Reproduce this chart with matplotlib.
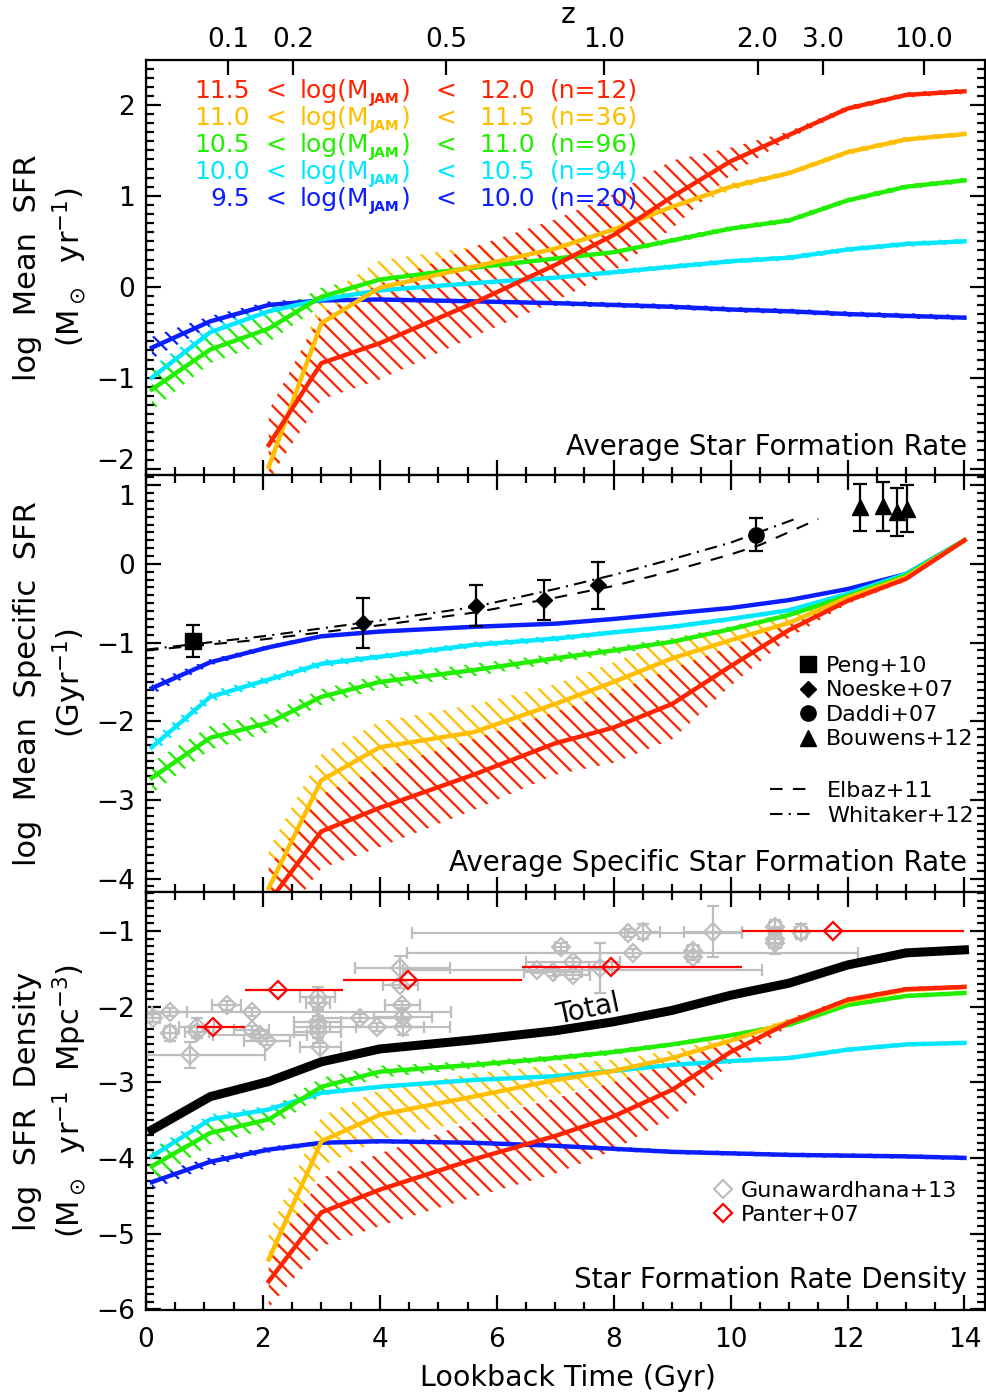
import numpy as np
import matplotlib
matplotlib.use('Agg')
import matplotlib.pyplot as plt
from matplotlib.ticker import MultipleLocator
from matplotlib.lines import Line2D
from matplotlib.transforms import offset_copy

plt.rcParams['font.family'] = ['DejaVu Sans']
plt.rcParams['mathtext.default'] = 'regular'
plt.rcParams['hatch.linewidth'] = 1.6

### lookback time grid (Gyr)
t_all = [0.1, 1.1, 2.1, 3.0, 4.0, 5.6, 7.0, 8.0, 9.0, 10.0, 11.0, 12.0, 13.0, 14.0]
t_hi = [2.1, 3.0, 4.0, 5.6, 7.0, 8.0, 9.0, 10.0, 11.0, 12.0, 13.0, 14.0]

### mass bins
mass_lo = ['11.5', '11.0', '10.5', '10.0', '9.5']
mass_hi = ['12.0', '11.5', '11.0', '10.5', '10.0']
n_gal = [12, 36, 96, 94, 20]
colors = ['#ff2400', '#ffbf00', '#22ee00', '#00e8ff', '#0a1eff']

### panel 1: log mean SFR
sfr_red = [-1.74, -0.84, -0.62, -0.18, 0.24, 0.57, 0.99, 1.38, 1.67, 1.96, 2.11, 2.15]
sfr_orange = [-1.98, -0.40, -0.01, 0.22, 0.42, 0.63, 0.88, 1.10, 1.25, 1.48, 1.62, 1.68]
sfr_green = [-1.13, -0.69, -0.46, -0.11, 0.08, 0.21, 0.31, 0.38, 0.51, 0.64, 0.73, 0.95, 1.10, 1.17]
sfr_cyan = [-1.00, -0.50, -0.27, -0.14, -0.04, 0.04, 0.10, 0.16, 0.22, 0.28, 0.32, 0.41, 0.47, 0.50]
sfr_blue = [-0.67, -0.38, -0.20, -0.15, -0.14, -0.16, -0.18, -0.20, -0.22, -0.25, -0.27, -0.30, -0.32, -0.34]
sfr_red_up = [0.38, 0.55, 0.65, 0.62, 0.50, 0.45, 0.40, 0.15, 0.04, 0.03, 0.03, 0.03]
sfr_red_dn = [0.38, 0.40, 0.40, 0.37, 0.40, 0.40, 0.35, 0.15, 0.04, 0.03, 0.03, 0.03]
sfr_orange_up = [0.30, 0.28, 0.30, 0.22, 0.18, 0.15, 0.08, 0.04, 0.03, 0.03, 0.03, 0.03]
sfr_orange_dn = [0.30, 0.15, 0.15, 0.15, 0.15, 0.12, 0.08, 0.04, 0.03, 0.03, 0.03, 0.03]
sfr_green_err = [0.23, 0.15, 0.15, 0.10, 0.06, 0.05, 0.04, 0.04, 0.03, 0.03, 0.03, 0.03, 0.03, 0.03]
sfr_cyan_err = [0.12, 0.07, 0.05, 0.04, 0.03, 0.03, 0.03, 0.03, 0.03, 0.03, 0.03, 0.03, 0.03, 0.03]
sfr_blue_err = [0.12, 0.06, 0.04, 0.03, 0.03, 0.03, 0.03, 0.03, 0.03, 0.03, 0.03, 0.03, 0.03, 0.03]

### panel 2: log mean specific SFR
ssfr_red = [-4.30, -3.40, -3.10, -2.68, -2.28, -2.08, -1.78, -1.30, -0.84, -0.47, -0.19, 0.30]
ssfr_orange = [-4.12, -2.75, -2.33, -2.14, -1.78, -1.50, -1.20, -0.97, -0.75, -0.43, -0.17, 0.30]
ssfr_green = [-2.72, -2.21, -2.02, -1.69, -1.50, -1.35, -1.20, -1.10, -0.99, -0.83, -0.65, -0.41, -0.15, 0.30]
ssfr_cyan = [-2.33, -1.69, -1.47, -1.27, -1.18, -1.03, -0.95, -0.87, -0.80, -0.70, -0.59, -0.38, -0.13, 0.30]
ssfr_blue = [-1.58, -1.25, -1.06, -0.92, -0.86, -0.80, -0.76, -0.70, -0.63, -0.56, -0.46, -0.32, -0.13, 0.30]
ssfr_red_err = [0.45, 0.47, 0.50, 0.45, 0.40, 0.45, 0.45, 0.25, 0.10, 0.04, 0.03, 0.02]
ssfr_orange_err = [0.50, 0.33, 0.33, 0.35, 0.25, 0.25, 0.25, 0.15, 0.10, 0.05, 0.03, 0.02]
ssfr_green_err = [0.20, 0.15, 0.12, 0.10, 0.09, 0.08, 0.06, 0.05, 0.05, 0.04, 0.03, 0.03, 0.02, 0.02]
ssfr_cyan_err = [0.10, 0.07, 0.05, 0.05, 0.04, 0.04, 0.04, 0.03, 0.03, 0.03, 0.03, 0.02, 0.02, 0.02]
ssfr_blue_err = [0.08, 0.04, 0.03, 0.02, 0.02, 0.02, 0.02, 0.02, 0.02, 0.02, 0.02, 0.02, 0.02, 0.02]

### literature sSFR
peng_t, peng_v, peng_e = [0.80], [-0.98], [0.20]
noeske_t = [3.71, 5.65, 6.81, 7.73]
noeske_v = [-0.75, -0.53, -0.46, -0.27]
noeske_e = [0.32, 0.26, 0.25, 0.30]
daddi_t, daddi_v, daddi_e = [10.44], [0.37], [0.21]
bouwens_t = [12.22, 12.60, 12.85, 13.02]
bouwens_v = [0.72, 0.73, 0.66, 0.70]
bouwens_e = [0.30, 0.31, 0.30, 0.30]
elbaz_t = [0.0, 2.0, 4.0, 5.6, 7.0, 8.0, 9.0, 10.0, 10.5, 11.5]
elbaz_v = [-1.10, -0.96, -0.78, -0.62, -0.43, -0.28, -0.09, 0.12, 0.24, 0.57]
whit_t = [0.0, 2.0, 4.0, 5.6, 7.0, 8.0, 9.0, 10.0, 11.1]
whit_v = [-1.09, -0.92, -0.72, -0.55, -0.32, -0.14, 0.06, 0.27, 0.57]

### panel 3: log SFR density
sfrd_total = [-3.63, -3.19, -2.99, -2.73, -2.56, -2.44, -2.32, -2.20, -2.05, -1.85, -1.69, -1.45, -1.29, -1.25]
sfrd_red = [-5.63, -4.72, -4.42, -4.02, -3.71, -3.45, -3.10, -2.60, -2.21, -1.91, -1.77, -1.74]
sfrd_orange = [-5.34, -3.78, -3.43, -3.19, -2.97, -2.85, -2.68, -2.45, -2.20, -1.93, -1.78, -1.74]
sfrd_green = [-4.11, -3.67, -3.49, -3.06, -2.86, -2.77, -2.68, -2.60, -2.50, -2.38, -2.24, -1.98, -1.86, -1.82]
sfrd_cyan = [-3.98, -3.49, -3.36, -3.14, -3.06, -2.97, -2.92, -2.85, -2.77, -2.72, -2.68, -2.57, -2.50, -2.48]
sfrd_blue = [-4.32, -4.05, -3.89, -3.80, -3.78, -3.80, -3.84, -3.88, -3.92, -3.94, -3.96, -3.97, -3.98, -4.00]
sfrd_red_err = [0.35, 0.45, 0.48, 0.50, 0.50, 0.45, 0.35, 0.15, 0.05, 0.03, 0.03, 0.03]
sfrd_orange_err = [0.35, 0.33, 0.33, 0.31, 0.20, 0.15, 0.10, 0.06, 0.04, 0.03, 0.03, 0.03]
sfrd_green_err = [0.23, 0.15, 0.13, 0.12, 0.08, 0.05, 0.04, 0.04, 0.03, 0.03, 0.03, 0.03, 0.03, 0.03]
sfrd_cyan_err = [0.10, 0.07, 0.05, 0.04, 0.03, 0.03, 0.03, 0.03, 0.03, 0.03, 0.03, 0.03, 0.03, 0.03]
sfrd_blue_err = [0.10, 0.06, 0.04, 0.03, 0.03, 0.03, 0.03, 0.03, 0.03, 0.03, 0.03, 0.03, 0.03, 0.03]

### Gunawardhana+13 compilation (grey)
gun_t = [0.12, 0.41, 0.41, 0.75, 0.87, 0.87, 1.38, 1.81, 1.81, 1.95, 2.07, 2.94, 2.94, 2.94, 2.94, 2.94,
         2.98, 3.66, 3.95, 4.35, 4.35, 4.38, 4.40, 4.40, 6.69, 6.96, 7.10, 7.30, 7.30, 7.77, 8.25, 8.33,
         8.50, 9.36, 9.36, 9.70, 10.76, 10.76, 10.76, 11.20]
gun_v = [-2.15, -2.07, -2.35, -2.64, -2.27, -2.33, -1.98, -2.07, -2.31, -2.37, -2.46, -1.87, -1.95, -2.20,
         -2.27, -2.33, -2.54, -2.15, -2.27, -1.49, -1.71, -1.98, -2.14, -2.27, -1.51, -1.54, -1.21, -1.41,
         -1.58, -1.49, -1.03, -1.29, -1.01, -1.26, -1.34, -1.01, -0.95, -1.10, -1.16, -1.01]
gun_xlo = [0.12, 0.30, 0.10, 0.73, 0.30, 0.20, 0.25, 1.80, 0.30, 0.80, 0.40, 0.30, 0.20, 0.40, 0.40, 0.40,
           0.35, 0.70, 0.80, 0.77, 0.30, 0.30, 0.50, 0.80, 2.30, 0.50, 0.10, 0.80, 0.30, 0.20, 3.70, 3.86,
           0.30, 0.10, 0.10, 0.50, 0.10, 0.10, 0.10, 0.10]
gun_xhi = [0.12, 0.30, 0.10, 1.29, 0.30, 0.20, 0.25, 3.40, 0.30, 0.80, 0.40, 0.30, 0.20, 0.40, 0.40, 0.40,
           0.35, 0.70, 0.80, 0.85, 0.30, 0.30, 0.50, 0.80, 3.85, 0.50, 0.10, 0.80, 0.30, 0.20, 1.95, 3.85,
           0.30, 0.10, 0.10, 0.50, 0.10, 0.10, 0.10, 0.10]
gun_ye = [0.05, 0.05, 0.10, 0.17, 0.12, 0.08, 0.06, 0.05, 0.05, 0.05, 0.05, 0.13, 0.08, 0.15, 0.15, 0.15,
          0.20, 0.05, 0.05, 0.16, 0.05, 0.05, 0.12, 0.10, 0.05, 0.05, 0.05, 0.05, 0.05, 0.33, 0.05, 0.05,
          0.10, 0.08, 0.05, 0.34, 0.10, 0.12, 0.15, 0.10]

### Panter+07 (red)
pan_t = [1.15, 2.26, 4.48, 7.95, 11.75]
pan_v = [-2.27, -1.78, -1.65, -1.47, -1.00]
pan_xlo = [0.28, 0.57, 1.11, 1.52, 1.55]
pan_xhi = [0.54, 1.11, 1.95, 2.25, 2.25]

### redshift axis (lookback time of z ticks)
z_labels = ['0.1', '0.2', '0.5', '1.0', '2.0', '3.0', '10.0']
z_lookback = [1.40, 2.52, 5.14, 7.84, 10.46, 11.58, 13.30]

xmax = 14.35

fig = plt.figure(figsize=(9.87, 13.97), dpi=100)
ax1 = fig.add_axes([0.1479, 0.6600, 0.8500, 0.2971])
ax2 = fig.add_axes([0.1479, 0.3615, 0.8500, 0.2985])
ax3 = fig.add_axes([0.1479, 0.0623, 0.8500, 0.2992])

tick_fs = 19
lab_fs = 22
title_fs = 20
leg_fs = 16
hatch = '\\\\'


def band(ax, t, mid, up, dn, col):
    t = np.array(t)
    mid = np.array(mid)
    ax.fill_between(t, mid - np.array(dn), mid + np.array(up), facecolor='none',
                    edgecolor=col, hatch=hatch, linewidth=0)
    ax.plot(t, mid, color=col, lw=3.2, solid_joinstyle='round')


def style(ax, ylim):
    ax.set_xlim(0, xmax)
    ax.set_ylim(*ylim)
    ax.xaxis.set_major_locator(MultipleLocator(2))
    ax.xaxis.set_minor_locator(MultipleLocator(0.5))
    ax.yaxis.set_major_locator(MultipleLocator(1))
    ax.yaxis.set_minor_locator(MultipleLocator(0.1))
    ax.tick_params(which='both', direction='in', right=True, top=True, width=1.6, labelsize=tick_fs)
    ax.tick_params(which='major', length=11)
    ax.tick_params(which='minor', length=6)
    ax.tick_params(axis='y', pad=8)
    ax.tick_params(axis='x', pad=12)
    for s in ax.spines.values():
        s.set_linewidth(1.6)


### --- panel 1
sfr_list = [sfr_red, sfr_orange, sfr_green, sfr_cyan, sfr_blue]
for k in [4, 3, 2]:
    err = [sfr_blue_err, sfr_cyan_err, sfr_green_err][4 - k]
    band(ax1, t_all, sfr_list[k], err, err, colors[k])
band(ax1, t_hi, sfr_orange, sfr_orange_up, sfr_orange_dn, colors[1])
band(ax1, t_hi, sfr_red, sfr_red_up, sfr_red_dn, colors[0])
style(ax1, (-2.07, 2.495))
ax1.tick_params(which='both', top=False, labelbottom=False)

# mass-bin key, one row per bin, built piece by piece so the JAM subscript stays small
renderer = fig.canvas.get_renderer()
inv = ax1.transAxes.inverted()
sub_tr = offset_copy(ax1.transAxes, fig=fig, y=-3.5, units='points')
row_base = [0.9084, 0.8434, 0.7783, 0.7133, 0.6482]
for k in range(5):
    kw = dict(transform=ax1.transAxes, color=colors[k], fontsize=18, va='baseline')
    ax1.text(0.124, row_base[k], mass_lo[k], ha='right', **kw)
    ax1.text(0.155, row_base[k], '<', ha='center', **kw)
    p1 = ax1.text(0.1835, row_base[k], 'log(M', ha='left', **kw)
    x1 = inv.transform((p1.get_window_extent(renderer).x1, 0))[0]
    p2 = ax1.text(x1 + 0.001, row_base[k], 'JAM', ha='left', va='baseline', color=colors[k],
                  fontsize=10, fontweight='bold', transform=sub_tr)
    x2 = inv.transform((p2.get_window_extent(renderer).x1, 0))[0]
    ax1.text(x2 + 0.001, row_base[k], ')', ha='left', **kw)
    ax1.text(0.3576, row_base[k], '<', ha='center', **kw)
    ax1.text(0.4636, row_base[k], mass_hi[k], ha='right', **kw)
    ax1.text(0.4815, row_base[k], '(n=%d)' % n_gal[k], ha='left', **kw)
ax1.text(0.9785, 0.0675, 'Average Star Formation Rate', transform=ax1.transAxes,
         ha='right', va='center', fontsize=title_fs)
ax1.set_ylabel('log  Mean  SFR\n' + r'(M$_\odot$  yr$^{-1}$)', fontsize=lab_fs, va='center',
               linespacing=1.3)
ax1.yaxis.set_label_coords(-0.113, 0.5)

axz = ax1.twiny()
axz.set_xlim(0, xmax)
axz.set_xticks(z_lookback)
axz.set_xticklabels(z_labels)
axz.xaxis.set_minor_locator(plt.NullLocator())
axz.tick_params(direction='in', length=11, width=1.6, labelsize=tick_fs, pad=5)
axz.set_xlabel('z', fontsize=20, va='baseline')
axz.xaxis.set_label_coords(0.503, 1.09)

### --- panel 2
ssfr_list = [ssfr_red, ssfr_orange, ssfr_green, ssfr_cyan, ssfr_blue]
ax2.plot(elbaz_t, elbaz_v, color='k', lw=1.5, dashes=(6, 5))
ax2.plot(whit_t, whit_v, color='k', lw=1.5, dashes=(6, 3, 1, 3))
for k in [4, 3, 2]:
    err = [ssfr_blue_err, ssfr_cyan_err, ssfr_green_err][4 - k]
    band(ax2, t_all, ssfr_list[k], err, err, colors[k])
band(ax2, t_hi, ssfr_orange, ssfr_orange_err, ssfr_orange_err, colors[1])
band(ax2, t_hi, ssfr_red, ssfr_red_err, ssfr_red_err, colors[0])

ekw = dict(color='k', ls='none', elinewidth=1.6, capsize=5, capthick=1.6, zorder=5)
ax2.errorbar(peng_t, peng_v, yerr=peng_e, marker='s', ms=11, **ekw)
ax2.errorbar(noeske_t, noeske_v, yerr=noeske_e, marker='D', ms=8.5, **ekw)
ax2.errorbar(daddi_t, daddi_v, yerr=daddi_e, marker='o', ms=11, **ekw)
ax2.errorbar(bouwens_t, bouwens_v, yerr=bouwens_e, marker='^', ms=11, **ekw)
style(ax2, (-4.17, 1.13))
ax2.tick_params(labelbottom=False)

h_pts = [Line2D([], [], color='k', ls='none', marker='s', ms=11),
         Line2D([], [], color='k', ls='none', marker='D', ms=8.5),
         Line2D([], [], color='k', ls='none', marker='o', ms=11),
         Line2D([], [], color='k', ls='none', marker='^', ms=11)]
leg = ax2.legend(h_pts, ['Peng+10', 'Noeske+07', 'Daddi+07', 'Bouwens+12'], loc='upper left',
                 bbox_to_anchor=(0.776, 0.566), frameon=False, fontsize=leg_fs, handlelength=1.0,
                 handletextpad=0.3, labelspacing=0.2, borderpad=0, borderaxespad=0)
ax2.add_artist(leg)
h_lines = [Line2D([], [], color='k', lw=1.5, dashes=(6, 5)),
           Line2D([], [], color='k', lw=1.5, dashes=(6, 3, 1, 3))]
ax2.legend(h_lines, ['Elbaz+11', 'Whitaker+12'], loc='upper left', bbox_to_anchor=(0.744, 0.266),
           frameon=False, fontsize=leg_fs, handlelength=1.8, handletextpad=0.75, labelspacing=0.2,
           borderpad=0, borderaxespad=0)
ax2.text(0.9785, 0.0695, 'Average Specific Star Formation Rate', transform=ax2.transAxes,
         ha='right', va='center', fontsize=title_fs)
ax2.set_ylabel('log  Mean  Specific  SFR\n' + r'(Gyr$^{-1}$)', fontsize=lab_fs, va='center',
               linespacing=1.3)
ax2.yaxis.set_label_coords(-0.113, 0.5)

### --- panel 3
gun_col = '#bebebe'
ax3.errorbar(gun_t, gun_v, xerr=[gun_xlo, gun_xhi], yerr=gun_ye, color=gun_col, ls='none',
             marker='D', ms=9, mfc='none', mew=1.6, elinewidth=1.6, capsize=4, capthick=1.6, zorder=2)
ax3.errorbar(pan_t, pan_v, xerr=[pan_xlo, pan_xhi], color='red', ls='none', marker='D', ms=9,
             mfc='none', mew=1.6, elinewidth=1.6, capsize=0, zorder=3)
sfrd_list = [sfrd_red, sfrd_orange, sfrd_green, sfrd_cyan, sfrd_blue]
for k in [4, 3, 2]:
    err = [sfrd_blue_err, sfrd_cyan_err, sfrd_green_err][4 - k]
    band(ax3, t_all, sfrd_list[k], err, err, colors[k])
band(ax3, t_hi, sfrd_orange, sfrd_orange_err, sfrd_orange_err, colors[1])
band(ax3, t_hi, sfrd_red, sfrd_red_err, sfrd_red_err, colors[0])
ax3.plot(t_all, sfrd_total, color='k', lw=6.5, solid_joinstyle='round', zorder=6)
ax3.text(7.56, -2.04, 'Total', fontsize=20, rotation=12, ha='center', va='center')
style(ax3, (-6.01, -0.485))

h_obs = [Line2D([], [], color=gun_col, ls='none', marker='D', ms=9, mfc='none', mew=1.6),
         Line2D([], [], color='red', ls='none', marker='D', ms=9, mfc='none', mew=1.6)]
ax3.legend(h_obs, ['Gunawardhana+13', 'Panter+07'], loc='upper left', bbox_to_anchor=(0.675, 0.309),
           frameon=False, fontsize=leg_fs, handlelength=1.0, handletextpad=0.3, labelspacing=0.2,
           borderpad=0, borderaxespad=0)
ax3.text(0.9785, 0.072, 'Star Formation Rate Density', transform=ax3.transAxes,
         ha='right', va='center', fontsize=title_fs)
ax3.set_ylabel('log  SFR  Density\n' + r'(M$_\odot$  yr$^{-1}$  Mpc$^{-3}$)', fontsize=lab_fs,
               va='center', linespacing=1.3)
ax3.yaxis.set_label_coords(-0.113, 0.5)
ax3.set_xlabel('Lookback Time (Gyr)', fontsize=20.5, va='center')
ax3.xaxis.set_label_coords(0.503, -0.163)

### edge tick labels where two panels meet
fig.canvas.draw()
for lab in ax2.get_yticklabels():
    if lab.get_text() == '1':
        lab.set_va('top')
for lab in ax1.get_yticklabels():
    if lab.get_text() == '\u22122':
        lab.set_va('baseline')

fig.savefig('out.png', dpi=100)
